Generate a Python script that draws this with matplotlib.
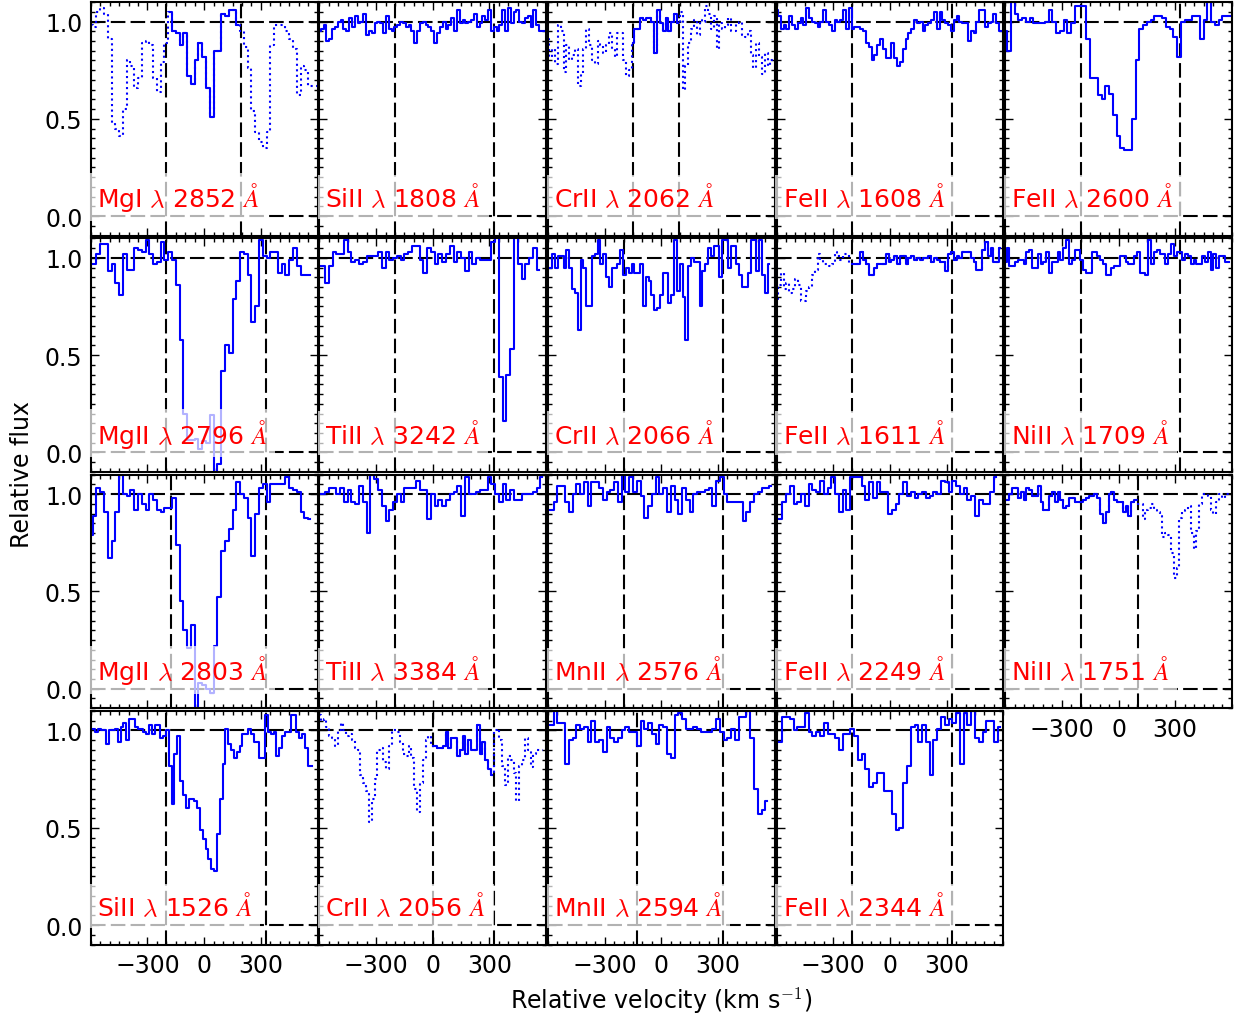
import numpy as np
import matplotlib.pyplot as plt
from matplotlib.ticker import FixedLocator, MultipleLocator
import matplotlib.transforms as mtransforms

plt.rcParams['mathtext.fontset'] = 'cm'

# normalised flux per transition, binned in velocity from -600 km/s
mgi_2852 = [0.98, 0.97, 1.05, 1.07, 1.04, 0.91, 0.48, 0.45, 0.41, 0.55,
            0.80, 0.77, 0.66, 0.71, 0.89, 0.90, 0.88, 0.71, 0.64, 0.79,
            0.89, 1.05, 0.95, 0.94, 0.88, 0.94, 0.72, 0.68, 0.80, 0.89,
            0.82, 0.66, 0.51, 0.85, 0.85, 1.04, 1.03, 1.06, 1.06, 0.98,
            0.95, 0.87, 0.76, 0.54, 0.43, 0.38, 0.35, 0.43, 0.88, 0.98,
            0.98, 0.98, 0.95, 0.91, 0.86, 0.62, 0.77, 0.75, 0.67, 0.67, 0.67]
sii_1808 = [0.95, 0.96, 0.98, 0.90, 0.91, 0.96, 0.97, 1.00, 1.01, 0.96,
            0.95, 1.02, 0.97, 1.03, 0.99, 1.00, 1.04, 0.93, 0.95, 0.94,
            0.99, 1.00, 0.99, 0.94, 1.03, 0.96, 0.95, 0.97, 0.98, 1.00,
            0.99, 0.97, 0.98, 0.95, 0.89, 0.95, 0.99, 1.00, 0.98, 0.97,
            0.95, 0.89, 0.94, 0.97, 1.00, 0.96, 0.98, 1.02, 0.95, 1.06,
            0.99, 1.01, 0.99, 1.00, 1.01, 1.04, 0.97, 0.99, 1.03, 1.01,
            1.06, 0.95, 0.97, 0.95, 0.98, 1.06, 0.95, 1.07, 0.99, 1.05,
            1.06, 1.00, 0.99, 1.02, 1.03, 0.97, 1.06, 0.98, 0.95, 0.95, 0.95]
crii_2062 = [0.91, 0.82, 0.86, 0.78, 0.98, 0.95, 0.74, 0.88, 0.80, 0.83,
             0.86, 0.67, 0.73, 0.86, 0.96, 0.88, 0.80, 0.78, 0.90, 0.88,
             0.84, 0.88, 0.94, 0.86, 0.82, 0.94, 0.94, 0.80, 0.72, 0.75,
             0.89, 0.96, 0.96, 1.02, 1.01, 1.02, 1.02, 1.00, 0.84, 1.06,
             0.99, 0.95, 1.02, 0.95, 1.00, 1.04, 0.99, 1.05, 0.65, 0.77,
             0.89, 0.96, 1.01, 0.93, 1.01, 1.00, 1.08, 1.04, 0.96, 1.03,
             0.86, 0.99, 0.96, 0.98, 1.02, 0.95, 0.95, 0.99, 1.00, 0.93,
             0.92, 0.95, 0.83, 0.76, 0.89, 0.82, 0.73, 0.84, 0.77, 0.80, 0.80]
feii_1608 = [1.06, 1.03, 0.96, 0.98, 0.96, 1.03, 0.98, 0.96, 0.99, 1.02,
             0.98, 1.07, 1.02, 1.00, 0.99, 0.97, 1.00, 1.06, 1.00, 0.98,
             0.95, 1.01, 1.00, 1.01, 1.06, 0.96, 1.07, 0.96, 0.97, 0.97,
             0.96, 0.95, 0.89, 0.87, 0.80, 0.83, 0.88, 0.91, 0.86, 0.81,
             0.81, 0.89, 0.81, 0.77, 0.79, 0.86, 0.91, 0.94, 0.96, 1.01,
             0.99, 1.00, 0.95, 0.98, 0.99, 1.01, 1.05, 0.96, 1.05, 1.01,
             0.99, 0.98, 0.95, 1.01, 1.03, 1.00, 0.99, 0.99, 0.90, 0.95,
             0.94, 1.00, 1.06, 1.06, 0.97, 0.99, 1.00, 1.04, 0.99, 0.95, 0.95]
feii_2600 = [0.95, 0.85, 1.10, 1.04, 1.01, 1.02, 1.00, 1.02, 0.99, 0.99,
             0.99, 1.00, 1.06, 1.00, 0.94, 0.95, 1.01, 0.94, 0.99, 1.08,
             1.08, 1.08, 0.91, 0.71, 0.71, 0.62, 0.60, 0.67, 0.63, 0.52,
             0.41, 0.35, 0.34, 0.34, 0.50, 0.80, 0.96, 0.98, 1.00, 1.01,
             1.03, 1.03, 1.02, 0.97, 0.96, 0.92, 0.82, 1.00, 1.01, 1.01,
             1.03, 1.03, 0.91, 1.01, 1.10, 1.00, 0.98, 1.01, 1.03, 1.03, 1.03]
mgii_2796 = [0.97, 0.97, 1.02, 1.07, 1.07, 0.93, 0.97, 0.87, 0.81, 1.02,
             0.94, 0.94, 1.05, 1.04, 1.03, 1.09, 1.02, 0.97, 0.98, 1.08,
             0.99, 1.03, 0.99, 0.86, 0.58, 0.20, 0.065, 0.065, 0.07, 0.02,
             0.06, 0.05, 0.19, -0.10, -0.06, 0.42, 0.55, 0.51, 0.79, 0.88,
             1.03, 1.02, 0.91, 0.67, 0.75, 1.09, 1.01, 1.00, 1.03, 1.03,
             0.92, 0.97, 0.91, 0.99, 1.05, 0.96, 0.91, 0.91, 0.91]
tiii_3242 = [0.96, 0.96, 0.87, 0.96, 1.03, 1.02, 1.02, 1.09, 1.03, 0.98,
             0.99, 0.97, 0.98, 1.01, 1.01, 1.01, 1.03, 0.95, 1.03, 0.99,
             1.00, 1.01, 0.99, 1.02, 1.03, 1.06, 1.06, 0.99, 0.92, 1.05,
             1.03, 0.97, 1.02, 0.98, 1.02, 1.06, 0.98, 1.03, 1.00, 0.93,
             1.03, 0.97, 1.00, 0.99, 0.99, 0.99, 1.08, 1.12, 0.39, 0.16,
             0.40, 0.53, 1.12, 0.97, 0.89, 0.97, 1.00, 1.05, 0.94]
crii_2066 = [0.95, 0.95, 1.02, 0.95, 1.01, 1.01, 0.95, 1.04, 0.95, 0.84,
             0.82, 0.63, 0.99, 0.95, 0.75, 0.75, 1.01, 1.02, 1.09, 0.97,
             1.02, 0.90, 0.85, 0.95, 0.95, 0.97, 1.04, 0.91, 0.95, 0.92,
             0.97, 0.92, 0.92, 0.97, 0.75, 0.90, 0.88, 0.81, 0.73, 0.74,
             0.81, 0.92, 0.92, 0.77, 0.81, 1.09, 0.83, 0.97, 0.80, 0.58,
             0.96, 1.00, 0.98, 0.98, 0.75, 0.93, 0.97, 1.05, 1.01, 1.06,
             1.06, 0.90, 1.09, 1.09, 0.95, 1.06, 1.06, 0.97, 0.91, 0.85,
             0.85, 0.92, 1.09, 1.09, 0.93, 1.09, 0.91, 0.82, 0.97]
feii_1611 = [0.79, 0.86, 0.92, 0.84, 0.87, 0.82, 0.84, 0.89, 0.86, 0.78,
             0.78, 0.83, 0.85, 0.91, 0.94, 1.02, 0.99, 0.97, 0.97, 0.96,
             0.97, 1.03, 1.01, 0.99, 1.02, 1.02, 0.97, 0.97, 0.97, 0.97,
             1.03, 0.99, 0.97, 0.91, 0.91, 0.95, 0.97, 0.97, 0.97, 1.02,
             0.98, 0.99, 1.01, 0.97, 1.01, 1.01, 0.97, 1.00, 1.01, 0.99,
             1.00, 0.99, 1.00, 1.00, 1.01, 0.98, 1.00, 0.99, 0.98, 0.98,
             0.93, 1.02, 1.03, 0.99, 1.01, 1.00, 1.03, 1.03, 1.03, 1.00,
             0.98, 0.94, 0.94, 1.04, 1.08, 1.01, 1.05, 0.98, 0.98, 1.05]
niii_1709 = [0.98, 1.05, 0.96, 0.96, 0.98, 0.99, 0.99, 0.97, 1.03, 1.04,
             0.95, 0.95, 1.02, 0.97, 0.98, 1.03, 0.92, 0.98, 0.98, 1.03,
             0.99, 1.05, 1.09, 0.97, 0.99, 1.04, 1.04, 0.99, 0.94, 0.92,
             0.92, 1.03, 1.03, 1.01, 0.99, 0.97, 0.91, 0.91, 0.95, 0.96,
             0.96, 1.01, 1.01, 0.98, 0.97, 0.97, 1.01, 1.03, 0.92, 0.92,
             0.91, 1.09, 0.97, 1.03, 1.04, 1.02, 1.02, 0.97, 1.02, 1.07,
             1.01, 1.03, 1.03, 0.99, 1.02, 1.01, 0.97, 0.99, 0.97, 0.97,
             1.01, 0.98, 1.03, 0.94, 1.02, 0.95, 1.01, 1.01, 0.98, 0.98]
mgii_2803 = [0.79, 0.89, 1.03, 1.01, 0.91, 0.67, 0.76, 0.91, 1.10, 1.00,
             0.99, 1.02, 0.92, 1.00, 0.95, 0.92, 1.00, 0.97, 0.92, 0.91,
             0.93, 0.93, 0.98, 0.74, 0.45, 0.30, 0.21, 0.33, -0.11, 0.03,
             0.02, 0.00, -0.02, 0.22, 0.47, 0.71, 0.76, 0.82, 0.92, 1.06,
             1.00, 0.98, 0.88, 0.68, 0.90, 1.03, 1.05, 0.96, 1.05, 1.05,
             1.05, 1.05, 1.09, 1.03, 1.02, 1.01, 0.91, 0.88, 0.87]
tiii_3384 = [1.00, 1.00, 1.01, 1.03, 1.03, 1.00, 1.03, 0.96, 1.02, 0.96,
             0.95, 1.04, 0.96, 0.80, 1.10, 1.08, 1.02, 0.94, 0.86, 0.92,
             0.96, 1.00, 0.96, 1.03, 1.03, 1.03, 1.07, 1.02, 1.02, 0.87,
             1.00, 0.94, 0.97, 0.94, 0.97, 1.00, 1.01, 1.04, 0.89, 1.09,
             1.00, 1.00, 1.01, 1.02, 1.02, 1.09, 1.05, 1.00, 0.96, 1.05,
             0.97, 1.02, 0.97, 0.97, 1.00, 1.00, 1.00, 1.01, 1.03, 1.09]
mnii_2576 = [0.92, 0.92, 0.96, 1.04, 1.04, 0.96, 0.91, 1.00, 1.05, 1.00,
             1.06, 0.94, 1.06, 1.06, 1.03, 0.97, 1.01, 1.02, 1.06, 0.96,
             1.10, 1.01, 1.09, 1.01, 1.07, 0.99, 0.88, 0.94, 1.00, 1.09,
             1.00, 1.03, 0.91, 1.04, 0.97, 0.90, 1.03, 0.97, 0.91, 1.00,
             1.01, 1.01, 1.02, 1.03, 0.94, 1.07, 1.09, 1.00, 0.96, 0.96,
             0.96, 0.96, 0.86, 0.91, 0.96, 1.00, 1.01, 1.03, 1.03, 1.04]
feii_2249 = [0.87, 0.87, 0.96, 1.00, 1.04, 0.95, 0.96, 1.00, 0.94, 1.05,
             1.02, 1.01, 1.07, 1.00, 1.03, 1.09, 1.00, 0.91, 1.02, 0.92,
             1.09, 1.09, 1.09, 1.04, 0.97, 1.06, 0.98, 1.06, 1.01, 1.01,
             0.90, 0.92, 0.95, 1.00, 1.06, 0.99, 1.01, 0.98, 1.00, 1.01,
             0.98, 0.99, 1.01, 1.00, 1.07, 1.06, 1.01, 1.07, 1.04, 1.00,
             1.03, 0.97, 0.99, 0.89, 0.97, 0.95, 0.95, 1.01, 1.09]
niii_1751 = [0.97, 0.97, 1.00, 1.03, 1.03, 0.98, 1.01, 0.97, 1.03, 1.02,
             0.99, 0.99, 1.04, 0.96, 0.92, 0.92, 0.99, 1.01, 0.96, 1.01,
             0.97, 0.93, 0.94, 0.98, 0.98, 0.96, 0.96, 0.96, 0.97, 0.98,
             0.99, 0.99, 1.00, 0.98, 0.90, 0.85, 0.91, 1.00, 1.01, 0.97,
             0.96, 0.96, 0.91, 0.94, 0.89, 0.96, 0.97, 0.95, 0.95, 0.87,
             0.92, 0.93, 0.95, 0.92, 0.91, 0.89, 0.78, 0.80, 0.79, 0.70,
             0.57, 0.62, 0.88, 0.91, 0.92, 0.94, 0.80, 0.72, 0.81, 0.95,
             1.00, 1.00, 0.99, 0.92, 0.90, 0.96, 1.00, 0.98, 1.00, 1.00]
sii_1526 = [1.01, 1.01, 0.99, 1.01, 1.00, 1.00, 0.93, 1.00, 1.00, 1.01,
            0.94, 1.02, 1.04, 0.95, 1.06, 1.06, 1.02, 1.01, 1.01, 0.99,
            0.98, 1.03, 0.98, 1.03, 1.03, 0.96, 0.97, 1.00, 0.82, 0.62,
            0.88, 0.97, 0.74, 0.67, 0.60, 0.65, 0.65, 0.64, 0.60, 0.49,
            0.44, 0.39, 0.34, 0.29, 0.28, 0.47, 0.65, 0.83, 1.01, 0.93,
            0.90, 0.86, 0.89, 0.92, 0.98, 0.98, 1.01, 0.98, 0.94, 0.94,
            0.86, 0.86, 1.08, 0.99, 0.98, 0.99, 0.87, 0.91, 0.97, 0.99,
            0.99, 1.08, 1.08, 0.99, 0.96, 0.98, 0.91, 0.82, 0.82]
crii_2056 = [1.08, 1.05, 1.06, 1.02, 0.97, 0.96, 0.92, 1.00, 1.04, 1.00,
             0.97, 0.98, 0.95, 0.91, 0.90, 0.77, 0.73, 0.69, 0.53, 0.65,
             0.75, 0.90, 0.91, 0.84, 0.80, 0.92, 1.00, 1.00, 0.99, 0.94,
             0.88, 0.87, 0.92, 0.86, 0.70, 0.58, 0.73, 0.85, 0.95, 0.97,
             0.92, 0.92, 0.91, 0.91, 0.92, 0.99, 0.91, 0.96, 0.96, 0.87,
             0.90, 0.97, 0.88, 0.95, 0.90, 0.90, 1.03, 0.88, 0.94, 0.85,
             0.80, 0.77, 1.00, 1.01, 0.95, 0.82, 0.72, 0.87, 0.85, 0.78,
             0.64, 0.82, 0.85, 0.96, 0.90, 0.81, 0.88, 0.90, 0.90, 0.90]
mnii_2594 = [1.03, 1.03, 1.10, 1.04, 1.04, 0.83, 0.95, 0.96, 1.03, 1.01,
             1.02, 0.94, 1.05, 0.94, 0.95, 0.89, 1.02, 0.96, 0.94, 0.96,
             1.00, 1.02, 0.99, 0.99, 0.92, 1.05, 1.01, 1.04, 0.98, 0.93,
             1.03, 1.02, 0.88, 0.86, 1.08, 1.09, 1.06, 1.01, 1.01, 1.02,
             1.01, 0.99, 0.99, 0.99, 1.01, 1.06, 0.99, 0.95, 0.96, 1.01,
             0.95, 1.07, 1.07, 1.10, 0.96, 0.70, 0.57, 0.59, 0.64]
feii_2344 = [0.94, 0.94, 1.07, 1.07, 1.06, 1.00, 1.02, 1.02, 1.09, 0.99,
             0.97, 0.99, 0.97, 1.04, 0.98, 0.98, 0.96, 0.90, 0.98, 0.98,
             1.01, 0.97, 0.85, 0.88, 0.80, 0.71, 0.73, 0.78, 0.78, 0.69,
             0.69, 0.57, 0.49, 0.50, 0.73, 0.82, 1.02, 1.03, 0.94, 1.03,
             0.94, 0.77, 0.95, 1.01, 1.07, 1.03, 1.06, 1.04, 1.09, 0.83,
             1.09, 1.03, 1.10, 0.96, 0.94, 0.99, 1.05, 1.05, 0.94, 1.02]

# ion, rest wavelength, flux, bin width (km/s), integration limits, unblended range (None = all clean)
panels = [
    ('MgI', 2852, mgi_2852, 20, (-200, 195), (-195, 195)),
    ('SiII', 1808, sii_1808, 15, (-200, 326), None),
    ('CrII', 2062, crii_2062, 15, (-150, 91), (-155, 95)),
    ('FeII', 1608, feii_1608, 15, (-200, 326), None),
    ('FeII', 2600, feii_2600, 20, (-200, 326), None),
    ('MgII', 2796, mgii_2796, 20, (-200, 326), None),
    ('TiII', 3242, tiii_3242, 20, (-200, 326), None),
    ('CrII', 2066, crii_2066, 15, (-200, 326), None),
    ('FeII', 1611, feii_1611, 15, (-200, 326), (-200, 600)),
    ('NiII', 1709, niii_1709, 15, (-200, 326), None),
    ('MgII', 2803, mgii_2803, 20, (-177, 326), None),
    ('TiII', 3384, tiii_3384, 20, (-200, 326), None),
    ('MnII', 2576, mnii_2576, 20, (-200, 326), None),
    ('FeII', 2249, feii_2249, 20, (-200, 326), None),
    ('NiII', 1751, niii_1751, 15, (-200, 102), (-600, 102)),
    ('SiII', 1526, sii_1526, 15, (-200, 326), None),
    ('CrII', 2056, crii_2056, 15, (0, 326), (-5, 326)),
    ('MnII', 2594, mnii_2594, 20, (-130, 326), None),
    ('FeII', 2344, feii_2344, 20, (-200, 326), None),
]

dash = (0, (7, 2.5))

fig, axes = plt.subplots(4, 5, figsize=(12.35, 10.2), dpi=100)
fig.subplots_adjust(left=0.0735, right=0.9975, bottom=0.073, top=0.997,
                    wspace=0.008, hspace=0.012)
axes[3, 4].remove()

for k, (ion, wave, flux, dv, vlim, clean) in enumerate(panels):
    row, col = divmod(k, 5)
    ax = axes[row, col]
    flux = np.array(flux)
    vel = -600 + dv * np.arange(len(flux))

    ax.axhline(1.0, color='k', ls=dash, lw=1.5)
    ax.axhline(0.0, color='k', ls=dash, lw=1.5)
    for v in vlim:
        ax.axvline(v, color='k', ls=dash, lw=1.5)

    if clean is None:
        ax.plot(vel, flux, color='b', lw=1.5, drawstyle='steps-mid')
    else:
        good = (vel >= clean[0]) & (vel <= clean[1])
        ax.plot(vel, flux, color='b', lw=1.5, ls=':', drawstyle='steps-mid')
        ax.plot(vel[good], flux[good], color='b', lw=1.5, drawstyle='steps-mid')

    trans = mtransforms.blended_transform_factory(ax.transAxes, ax.transData)
    ax.text(0.027, 0.05, f'{ion} $\\lambda$ {wave} $\\AA$', transform=trans,
            color='r', fontsize=18, va='baseline', ha='left',
            bbox=dict(boxstyle='square,pad=0.3', facecolor='white',
                      edgecolor='none', alpha=0.7))

    ax.set_xlim(-600, 600)
    ax.set_ylim(-0.1, 1.1)
    ax.xaxis.set_major_locator(FixedLocator([-300, 0, 300]))
    ax.xaxis.set_minor_locator(MultipleLocator(50))
    ax.yaxis.set_major_locator(MultipleLocator(0.5))
    ax.yaxis.set_minor_locator(MultipleLocator(0.05))
    ax.tick_params(which='both', direction='in', top=True, right=True,
                   labelsize=17, width=1)
    ax.tick_params(which='major', length=6, pad=6)
    ax.tick_params(which='minor', length=3)
    for s in ax.spines.values():
        s.set_linewidth(1.5)

    if col != 0:
        ax.tick_params(labelleft=False)
    if not (row == 3 or (row == 2 and col == 4)):
        ax.tick_params(labelbottom=False)

fig.text(0.018, 0.535, 'Relative flux', rotation=90, ha='center', va='center', fontsize=17)
fig.text(0.535, 0.019, 'Relative velocity (km s$^{-1}$)', ha='center', va='center', fontsize=17)

fig.savefig('out.png', dpi=100)
